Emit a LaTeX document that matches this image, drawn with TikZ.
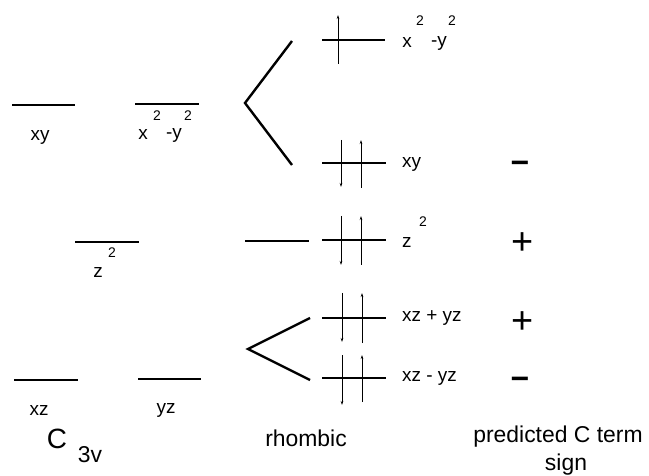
\documentclass[tikz,border=0pt]{standalone}
\usepackage{fontspec}
\setmainfont{Liberation Sans}
\usetikzlibrary{arrows.meta}
\begin{document}
\begin{tikzpicture}[x=1bp,y=-1bp,
  lvl/.style={line width=2.6bp},
  rlvl/.style={line width=2.4bp},
  conn/.style={line width=2.4bp},
  lbl/.style={inner sep=0pt,font=\fontsize{19}{19}\selectfont},
  sup/.style={inner sep=0pt,font=\fontsize{14}{14}\selectfont},
  big/.style={inner sep=0pt,font=\fontsize{23}{23}\selectfont},
  sgn/.style={inner sep=0pt,anchor=base,font=\fontsize{32}{32}\selectfont\bfseries},
  psgn/.style={inner sep=0pt,anchor=base,font=\fontsize{38}{38}\selectfont},
  eup/.style={line width=0.9bp,-{Stealth[length=4bp,width=2.5bp]}},
  edn/.style={line width=0.9bp,-{Stealth[length=4bp,width=2.5bp]}}]
\useasboundingbox (0,0) rectangle (649,476);
% C3v levels
\draw[lvl] (12,105) coordinate (a1) -- (75,105) coordinate (a2);
\draw[lvl] (135,104) coordinate (b1) -- (199,104) coordinate (b2);
\draw[lvl] (75,242) coordinate (c1) -- (139,242) coordinate (c2);
\draw[lvl] (14,380) coordinate (d1) -- (78,380) coordinate (d2);
\draw[lvl] (138,379) coordinate (e1) -- (201,379) coordinate (e2);
\node[lbl] (lxy) at (40,137) {xy};
\node[lbl] (lbx) at (143,135) {x};
\node[sup] (lb2a) at (157,116) {2};
\node[lbl] (lby) at (174,135) {-y};
\node[sup] (lb2b) at (188,116) {2};
\node[sup] (lc2) at (112,253) {2};
\node[lbl] (lcz) at (98,272) {z};
\node[lbl] (lxz) at (39,410) {xz};
\node[lbl] (lyz) at (166,410) {yz};
% rhombic levels
\draw[rlvl] (322,40) coordinate (r1a) -- (385,40) coordinate (r1b);
\draw[rlvl] (322,163) coordinate (r2a) -- (386,163) coordinate (r2b);
\draw[rlvl] (322,240) coordinate (r3a) -- (386,240) coordinate (r3b);
\draw[rlvl] (322,318) coordinate (r4a) -- (386,318) coordinate (r4b);
\draw[rlvl] (322,378) coordinate (r5a) -- (386,378) coordinate (r5b);
% connectors
\coordinate (v1) at (245,103);
\coordinate (t1) at (292,41);
\coordinate (u1) at (292,165);
\draw[conn] (t1) -- (v1) -- (u1);
\coordinate (z1) at (245,241);
\coordinate (z2) at (309,241);
\draw[conn] (z1) -- (z2);
\coordinate (v2) at (248,349);
\coordinate (t2) at (310,318);
\coordinate (u2) at (310,380);
\draw[conn] (t2) -- (v2) -- (u2);
% electrons
\draw[eup] (338,64) coordinate (s1) -- (338,15) coordinate (s2);
\draw[edn] (341,140) coordinate (s3) -- (341,187) coordinate (s4);
\draw[eup] (361,188) coordinate (s5) -- (361,140) coordinate (s6);
\draw[edn] (341,216) coordinate (s7) -- (341,265) coordinate (s8);
\draw[eup] (361,265) coordinate (s9) -- (361,216) coordinate (s10);
\draw[edn] (342,293) coordinate (s11) -- (342,342) coordinate (s12);
\draw[eup] (362,343) coordinate (s13) -- (362,293) coordinate (s14);
\draw[edn] (342,355) coordinate (s15) -- (342,405) coordinate (s16);
\draw[eup] (362,402) coordinate (s17) -- (362,355) coordinate (s18);
% rhombic labels
\node[lbl] (rx) at (407,43) {x};
\node[sup] (r2a) at (420,21) {2};
\node[lbl] (ry) at (439,43) {-y};
\node[sup] (r2b) at (452,21) {2};
\node[lbl,anchor=west] (rxy) at (402,164) {xy};
\node[lbl,anchor=west] (rz) at (402,243) {z};
\node[sup] (rz2) at (423,222) {2};
\node[lbl,anchor=west] (rp) at (402,318) {xz + yz};
\node[lbl,anchor=west] (rm) at (402,378) {xz - yz};
% signs
\node[sgn] (g1) at (520,174) {−};
\node[psgn] (g2) at (523,255) {+};
\node[psgn] (g3) at (523,333) {+};
\node[sgn] (g4) at (520,389) {−};
% bottom labels
\node[inner sep=0pt,font=\fontsize{28}{28}\selectfont] (C) at (57,439) {C};
\node[big] (C3v) at (90,455) {3v};
\node[big] (rh) at (306,438) {rhombic};
\node[big] (pc) at (558,437) {predicted C term};
\node[big] (sg) at (566,465) {sign};
\end{tikzpicture}
\end{document}
